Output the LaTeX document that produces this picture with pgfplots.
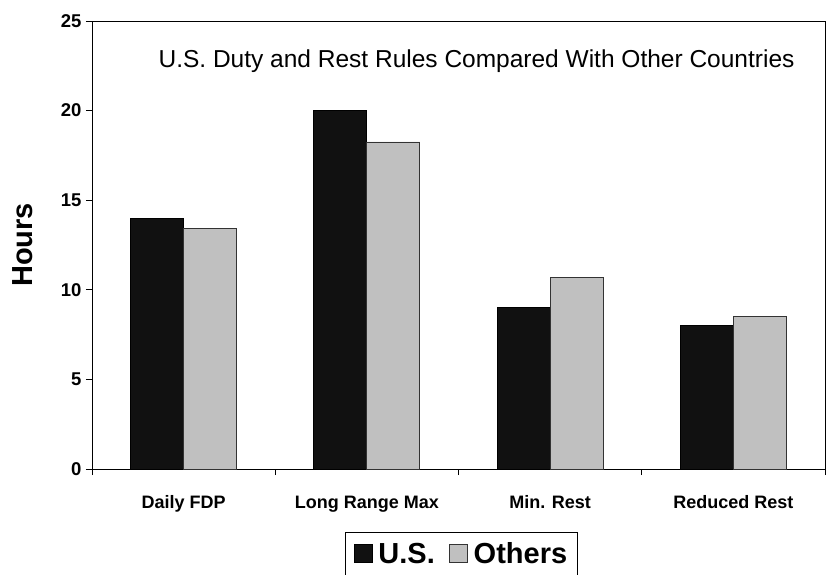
\documentclass[border=0pt]{standalone}
\usepackage{pgfplots}
\pgfplotsset{compat=1.18}
\usepackage{fontspec}
\setmainfont{Liberation Sans}

\definecolor{usbar}{HTML}{111111}
\definecolor{otherbar}{HTML}{C0C0C0}

\begin{document}
\begin{tikzpicture}
\begin{axis}[
    name=main,
    at={(92pt,105pt)}, anchor=south west,
    scale only axis,
    width=733pt, height=448pt,
    ybar=0pt,
    bar width=53pt,
    xmin=-0.5, xmax=3.5,
    ymin=0, ymax=25,
    ytick={0,5,10,15,20,25},
    xtick={0,1,2,3},
    xticklabels={Daily FDP, Long Range Max, Min. Rest, Reduced Rest},
    minor xtick={-0.5,0.5,1.5,2.5,3.5},
    major x tick style={draw=none},
    tick align=outside,
    major tick length=6pt,
    minor tick length=6pt,
    xtick pos=bottom, ytick pos=left,
    axis line style={black, line width=1pt},
    tick style={black, line width=1pt},
    /pgf/number format/assume math mode=true,
    yticklabel style={font=\fontsize{18.5}{20}\selectfont\bfseries, xshift=-1pt},
    xticklabel style={font=\fontsize{18}{20}\selectfont\bfseries, anchor=base, yshift=-33pt},
    ylabel={Hours},
    every axis y label/.style={at={(axis description cs:-0.094,0.5)}, rotate=90, anchor=center,
        font=\fontsize{29}{32}\selectfont\bfseries},
    legend columns=-1,
    legend style={at={(rel axis cs:0.504,-0.1406)}, anchor=north,
        draw=black, line width=1pt,
        font=\fontsize{29}{32}\selectfont\bfseries,
        inner xsep=8pt, inner ysep=8pt,
        /tikz/every odd column/.append style={column sep=4pt},
        /tikz/every even column/.append style={column sep=12pt}},
    legend image code/.code={\draw[#1, line width=0.8pt] (0pt,-9pt) rectangle (18pt,9pt);},
]
\addplot[fill=usbar, draw=black, line width=0.8pt] coordinates {
    (0,14.0) (1,20.0) (2,9.0) (3,8.0)
};
\addplot[fill=otherbar, draw=black!80, line width=0.8pt] coordinates {
    (0,13.4) (1,18.25) (2,10.7) (3,8.5)
};
\legend{U.S., Others}
\node[anchor=base, font=\fontsize{24.5}{28}\selectfont] at (rel axis cs:0.5246,0.8966)
    {U.S. Duty and Rest Rules Compared With Other Countries};
\end{axis}
\pgfresetboundingbox
\path[use as bounding box] (0pt,0pt) rectangle (826pt,574pt);
\end{tikzpicture}
\end{document}
